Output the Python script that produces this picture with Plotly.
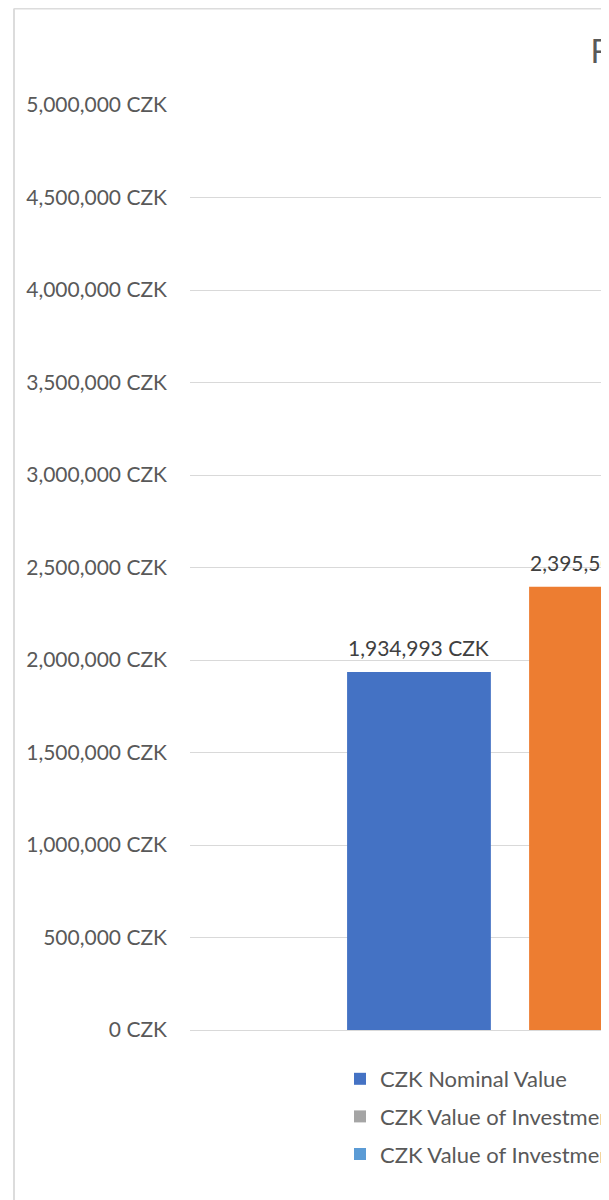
import plotly.graph_objects as go

# ---- data ----
categories = ["Investment"]
series_names = [
    "CZK Nominal Value",
    "CZK Real Value",
    "CZK Value of Investment (Fund A)",
    "CZK Value of Investment (Fund B)",
]
series_values = [[1934993], [2395500], [None], [None]]
series_colors = ["#4472C4", "#ED7D31", "#A5A5A5", "#5B9BD5"]
series_in_legend = [True, False, True, True]
y_ticks = [0, 500000, 1000000, 1500000, 2000000, 2500000, 3000000, 3500000, 4000000, 4500000, 5000000]
y_tick_labels = [f"{v:,} CZK" for v in y_ticks]
chart_title = "Future Value of Investment"

# ---- layout geometry (pixels, in figure coordinates; page has an 8px body margin) ----
W, H = 601, 1192
ML, MR, MT, MB = 182, 0, 97, 170
PW, PH = W - ML - MR, H - MT - MB


def px_to_paper_x(px):
    return (px - ML) / PW


def px_to_paper_y(py):
    return (H - MB - py) / PH


FONT = "Lato"
slot = 0.2
bar_w = 0.158
first_offset = -0.379

fig = go.Figure()
annotations = []
for i, (name, vals, col, leg) in enumerate(zip(series_names, series_values, series_colors, series_in_legend)):
    off = first_offset + i * slot
    fig.add_trace(go.Bar(
        x=categories, y=vals, name=name,
        marker=dict(color=col, line=dict(width=0)),
        offset=off, width=bar_w,
        showlegend=leg, legendgroup=f"g{i}",
    ))
    for v in vals:
        if v is not None:
            annotations.append(dict(
                x=off + bar_w / 2, y=v, xref="x", yref="y",
                text=f"{v:,} CZK", showarrow=False,
                yanchor="bottom", xanchor="center", yshift=10,
                font=dict(family=FONT, size=21, color="#404040"),
            ))

shapes = [
    dict(type="line", xref="paper", yref="paper",
         x0=px_to_paper_x(6), x1=px_to_paper_x(6),
         y0=px_to_paper_y(0.5), y1=px_to_paper_y(1210),
         line=dict(color="#DCDCDC", width=2)),
    dict(type="line", xref="paper", yref="paper",
         x0=px_to_paper_x(6), x1=px_to_paper_x(620),
         y0=px_to_paper_y(0.5), y1=px_to_paper_y(0.5),
         line=dict(color="#DCDCDC", width=2)),
]

fig.update_layout(
    width=W, height=H,
    margin=dict(l=ML, r=MR, t=MT, b=MB, pad=0, autoexpand=False),
    paper_bgcolor="white", plot_bgcolor="white",
    barmode="overlay",
    font=dict(family=FONT, size=21, color="#595959"),
    title=dict(
        text=chart_title, xref="container", yref="container",
        x=582.5 / W, y=1 - 44 / H, xanchor="left", yanchor="middle",
        font=dict(family=FONT, size=32, color="#595959"),
        automargin=False,
    ),
    showlegend=True,
    legend=dict(
        x=px_to_paper_x(332), y=px_to_paper_y(1050),
        xanchor="left", yanchor="top",
        orientation="v", tracegroupgap=6,
        font=dict(family=FONT, size=22, color="#595959"),
        bgcolor="rgba(0,0,0,0)", borderwidth=0,
    ),
    xaxis=dict(
        range=[-0.5516, -0.0912], showticklabels=False, showgrid=False,
        showline=False, zeroline=False, ticks="", automargin=False,
    ),
    yaxis=dict(
        range=[0, 5000000], tickvals=y_ticks, ticktext=y_tick_labels,
        showgrid=True, gridcolor="#D9D9D9", gridwidth=1,
        zeroline=True, zerolinecolor="#D9D9D9", zerolinewidth=1,
        showline=False, ticks="", ticklabelstandoff=22, automargin=False,
        tickfont=dict(family=FONT, size=21, color="#595959"),
    ),
    annotations=annotations,
    shapes=shapes,
)

fig.write_html("out.html")
